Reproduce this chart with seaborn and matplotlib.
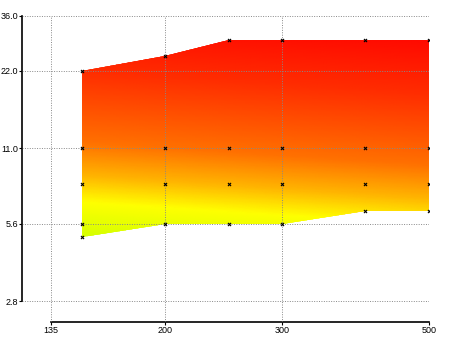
import numpy as np
import matplotlib
matplotlib.use("Agg")
import matplotlib.pyplot as plt
import seaborn as sns
import pandas as pd
from matplotlib.colors import LinearSegmentedColormap

# data
x_vals = [150, 200, 250, 300, 400, 500]
low_vals = [5.0, 5.6, 5.6, 5.6, 6.3, 6.3]
high_vals = [22, 25, 29, 29, 29, 29]
mid_levels = [5.6, 8, 11]
x_ticks = [135, 200, 300, 500]
y_ticks = [2.8, 5.6, 11.0, 22.0, 36.0]

sns.set_style("ticks")
plt.rcParams["font.family"] = ["Liberation Sans", "DejaVu Sans"]

fig = plt.figure(figsize=(4.5, 3.37), dpi=100)
W, H = 450, 337
ax = fig.add_axes([22 / W, 1 - 322 / H, (429.3 - 22) / W, (322 - 15.5) / H])
ax.set_xscale("log")
ax.set_yscale("log")
ax.set_xlim(122, 500)
ax.set_ylim(2.33, 36)

# outline of the filled band
band = ax.fill_between(x_vals, low_vals, high_vals, facecolor="none",
                       edgecolor="none", antialiased=False)

# gradient, mostly by height, a bit warmer to the right
gx = np.geomspace(x_vals[0], x_vals[-1], 120)
gy = np.geomspace(min(low_vals), max(high_vals), 160)
GX, GY = np.meshgrid(gx, gy)
level = np.log(GY) + 0.17 * np.log(GX / x_vals[0])
cmap = LinearSegmentedColormap.from_list(
    "band",
    [(0.0, "#d4ff00"), (0.16, "#ffff00"), (0.28, "#ffb400"),
     (0.43, "#ff7000"), (0.75, "#ff2c00"), (1.0, "#ff0800")])
mesh = ax.pcolormesh(GX, GY, level, cmap=cmap, vmin=1.6, vmax=3.6,
                     shading="gouraud", zorder=1)
mesh.set_clip_path(band.get_paths()[0], transform=ax.transData)

# markers
pts = []
for x, lo, hi in zip(x_vals, low_vals, high_vals):
    ys = sorted(set([lo, hi] + [m for m in mid_levels if lo <= m <= hi]))
    for y in ys:
        pts.append((x, y))
df = pd.DataFrame(pts, columns=["x", "y"])
sns.scatterplot(data=df, x="x", y="y", marker="x", color="black",
                s=5, linewidth=0.8, ax=ax, zorder=4, legend=False)

ax.set_axisbelow(False)
ax.grid(True, color="#888888", linestyle=(0, (1, 1.5)), linewidth=0.7, zorder=3)

ax.set_xticks(x_ticks)
ax.set_xticklabels([str(t) for t in x_ticks])
ax.set_yticks(y_ticks)
ax.set_yticklabels([f"{t:.1f}" for t in y_ticks])
ax.minorticks_off()
ax.tick_params(labelsize=6.5, length=2, width=0.8, pad=1, colors="black")

for side in ["top", "right"]:
    ax.spines[side].set_visible(False)
ax.spines["left"].set_bounds(2.8, 36)
ax.spines["bottom"].set_bounds(135, 500)
ax.spines["left"].set_linewidth(1.2)
ax.spines["bottom"].set_linewidth(1.2)
ax.spines["left"].set_color("black")
ax.spines["bottom"].set_color("black")

ax.set_xlabel("")
ax.set_ylabel("")

fig.savefig("out.png", dpi=100)
plt.close()
